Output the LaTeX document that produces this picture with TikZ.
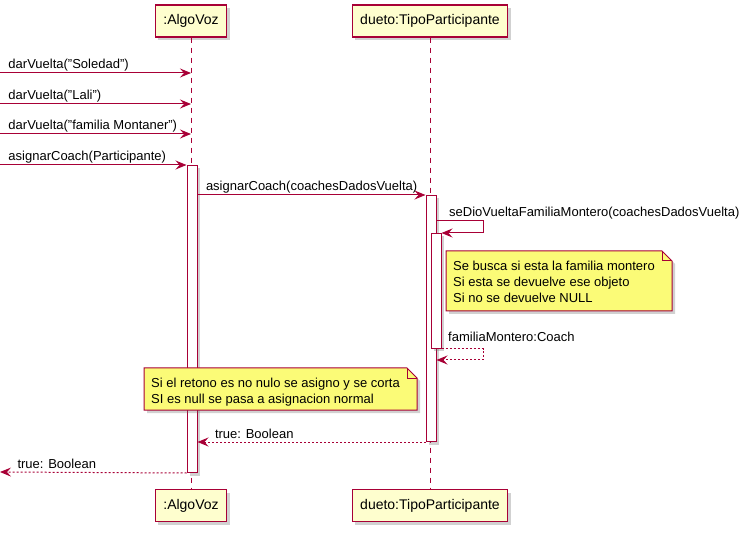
\documentclass[tikz,border=0pt]{standalone}
\usepackage{fontspec}
\setmainfont{Liberation Sans}
\usetikzlibrary{arrows.meta,shadows}
\definecolor{umlred}{HTML}{A80036}
\definecolor{umlbox}{HTML}{FEFECE}
\definecolor{umlnote}{HTML}{FBFB77}
\tikzset{
  umlshadow/.style={drop shadow={shadow xshift=3pt,shadow yshift=-3pt,opacity=.3,fill=black!60}},
  participant/.style={draw=umlred, fill=umlbox, line width=1.3pt, umlshadow,
    font=\fontsize{14}{16}\selectfont, minimum height=32pt, inner xsep=8pt},
  lifeline/.style={draw=umlred, line width=.9pt, dash pattern=on 5pt off 5pt},
  activation/.style={draw=umlred, fill=white, line width=1pt, umlshadow,
    minimum width=10pt, inner sep=0pt, anchor=north},
  msg/.style={draw=umlred, line width=1pt, -{Stealth[length=11pt,width=9pt,inset=4pt]}},
  reply/.style={msg, dash pattern=on 2pt off 2pt},
  msglabel/.style={anchor=base west, inner sep=0pt, text=black, font=\fontsize{13}{16}\selectfont},
  noteshape/.style={draw=umlred, fill=umlnote, line width=1pt, umlshadow},
  notetext/.style={anchor=north west, align=left, inner xsep=7pt, inner ysep=10pt,
    font=\fontsize{13}{16}\selectfont}
}
\begin{document}
\begin{tikzpicture}[x=1pt,y=-1pt] % sequence diagram, pixel units, y down

\useasboundingbox (0,0) rectangle (744,534);
\def\xV{191} % lifeline :AlgoVoz
\def\xD{430} % lifeline dueto
\def\xS{483} % right end of self call

% participants
\node[participant] (voz) at (\xV,21) {:AlgoVoz};
\node[participant] (dueto) at (\xD,21) {dueto:TipoParticipante};
\node[participant] (vozB) at (\xV,505.5) {:AlgoVoz};
\node[participant] (duetoB) at (\xD,505.5) {dueto:TipoParticipante};
\draw[lifeline] (voz) -- (vozB);
\draw[lifeline] (dueto) -- (duetoB);

% activations
\node[activation, minimum height=307pt] (actVoz) at (\xV+1,165) {};
\node[activation, minimum height=246pt] (actDueto) at (\xD+1,195) {};
\node[activation, minimum height=115pt] (actSelf) at (\xD+6,233) {};

% incoming calls
\coordinate (in1) at (0,73);
\coordinate (in2) at (0,104);
\coordinate (in3) at (0,134);
\coordinate (in4) at (0,165);
\coordinate (out1) at (0,472);
\draw[msg] (in1) -- (in1 -| voz) node[at start, msglabel, xshift=8pt, yshift=4pt] {darVuelta("Soledad")};
\draw[msg] (in2) -- (in2 -| voz) node[at start, msglabel, xshift=8pt, yshift=4pt] {darVuelta("Lali")};
\draw[msg] (in3) -- (in3 -| voz) node[at start, msglabel, xshift=8pt, yshift=4pt] {darVuelta("familia Montaner")};
\draw[msg] (in4) -- (actVoz.north west) node[at start, msglabel, xshift=8pt, yshift=4pt] {asignarCoach(Participante)};

\draw[msg] (actVoz.east |- actDueto.north) -- (actDueto.north west)
  node[at start, msglabel, xshift=8pt, yshift=4pt] {asignarCoach(coachesDadosVuelta)};

% self call and its return
\coordinate (self1) at (\xS,221);
\coordinate (self2) at (\xS,360);
\draw[msg] (actDueto.east |- self1) -- (self1) |- (actSelf.north east);
\node[msglabel] (selfLbl) at (449,216.5) {seDioVueltaFamiliaMontero(coachesDadosVuelta)};
\draw[reply] (actSelf.south east) -| (self2) -- (actDueto.east |- self2);
\node[msglabel] (retLbl) at (448,341.5) {familiaMontero:Coach};

% notes
\filldraw[noteshape] (446,251) -- (662,251) -- (672,261) -- (672,311) -- (446,311) -- cycle;
\draw[umlred, line width=1pt] (662,251) |- (672,261);
\node[notetext] (noteBusca) at (446,251) {Se busca si esta la familia montero\\Si esta se devuelve ese objeto\\Si no se devuelve NULL};
\filldraw[noteshape] (144,368) -- (407,368) -- (417,378) -- (417,410) -- (144,410) -- cycle;
\draw[umlred, line width=1pt] (407,368) |- (417,378);
\node[notetext] (noteRetorno) at (144,368) {Si el retono es no nulo se asigno y se corta\\SI es null se pasa a asignacion normal};

% returns
\draw[reply] (actDueto.south west) -- (actVoz.east |- actDueto.south)
  node[at end, msglabel, xshift=17pt, yshift=4pt] {true: Boolean};
\draw[reply] (actVoz.south west) -- (out1)
  node[at end, msglabel, xshift=17pt, yshift=4pt] {true: Boolean};
\end{tikzpicture}
\end{document}
